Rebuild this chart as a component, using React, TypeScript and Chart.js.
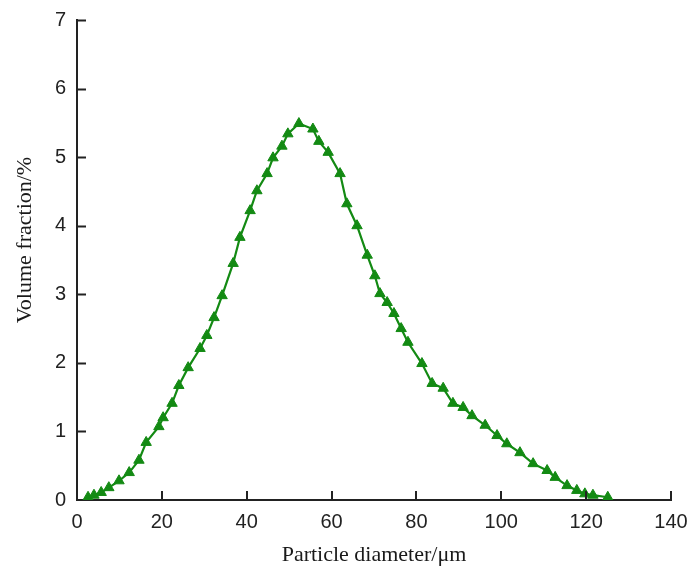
import React, { useEffect, useRef } from "react";
import { Chart, registerables } from "chart.js";

Chart.register(...registerables);

const diameters = [
  2.6, 4.0, 5.7, 7.5, 9.9, 12.3, 14.6, 16.3, 19.3, 20.3, 22.4, 24.0, 26.2, 29.0,
  30.6, 32.3, 34.2, 36.8, 38.4, 40.8, 42.4, 44.8, 46.2, 48.3, 49.7, 52.3, 55.6,
  57.0, 59.2, 62.0, 63.6, 66.0, 68.4, 70.2, 71.4, 73.1, 74.7, 76.4, 78.0, 81.3,
  83.7, 86.3, 88.6, 91.0, 93.1, 96.2, 99.0, 101.3, 104.4, 107.5, 110.8, 112.7,
  115.5, 117.8, 119.7, 121.6, 125.1,
];
const volumeFractions = [
  0.04, 0.07, 0.11, 0.18, 0.28, 0.4, 0.58, 0.84, 1.07, 1.2, 1.41, 1.67, 1.93,
  2.21, 2.4, 2.66, 2.98, 3.45, 3.83, 4.22, 4.51, 4.76, 4.99, 5.16, 5.34, 5.49,
  5.41, 5.23, 5.07, 4.76, 4.32, 4.0, 3.57, 3.27, 3.01, 2.88, 2.72, 2.5, 2.3,
  1.99, 1.7, 1.63, 1.41, 1.35, 1.23, 1.09, 0.94, 0.82, 0.69, 0.53, 0.43, 0.33,
  0.21, 0.14, 0.09, 0.07, 0.04,
];
const xTicks = [0, 20, 40, 60, 80, 100, 120, 140];
const yTicks = [0, 1, 2, 3, 4, 5, 6, 7];
const xTitle = "Particle diameter/μm";
const yTitle = "Volume fraction/%";

const AXIS_COLOR = "#222";
const GREEN = "#138a13";
const SANS = "'Liberation Sans', Arial, sans-serif";
const SERIF = "'Liberation Serif', 'Times New Roman', serif";

const tickPlugin = {
  id: "inwardTicksAndTitles",
  afterDraw(chart: any) {
    const ctx = chart.ctx;
    const xs = chart.scales.x;
    const ys = chart.scales.y;
    const area = chart.chartArea;
    ctx.save();
    ctx.strokeStyle = AXIS_COLOR;
    ctx.lineWidth = 2;
    ctx.beginPath();
    yTicks.forEach((v) => {
      if (v === 0) return;
      const y = Math.round(ys.getPixelForValue(v)) + 0.5;
      ctx.moveTo(area.left, y);
      ctx.lineTo(area.left + 9, y);
    });
    xTicks.forEach((v) => {
      if (v === 0) return;
      const x = Math.round(xs.getPixelForValue(v));
      ctx.moveTo(x, area.bottom);
      ctx.lineTo(x, area.bottom - 9);
    });
    ctx.stroke();

    ctx.fillStyle = "#1a1a1a";
    ctx.font = `22px ${SERIF}`;
    ctx.textAlign = "center";
    ctx.textBaseline = "alphabetic";
    ctx.fillText(xTitle, (area.left + area.right) / 2, 561);

    ctx.translate(31, 240);
    ctx.rotate(-Math.PI / 2);
    ctx.fillText(yTitle, 0, 0);
    ctx.restore();
  },
};

export default function App() {
  const canvasRef = useRef<HTMLCanvasElement | null>(null);

  useEffect(() => {
    if (!canvasRef.current) return;
    const chart = new Chart(canvasRef.current, {
      type: "scatter",
      data: {
        datasets: [
          {
            data: diameters.map((d, i) => ({ x: d, y: volumeFractions[i] })),
            showLine: true,
            borderColor: GREEN,
            backgroundColor: GREEN,
            borderWidth: 2.2,
            pointStyle: "triangle",
            pointRadius: 6,
            pointBorderWidth: 1,
            pointBackgroundColor: GREEN,
            pointBorderColor: GREEN,
            tension: 0,
          },
        ],
      },
      options: {
        responsive: false,
        animation: false,
        layout: { padding: { top: 20, right: 20, left: 0, bottom: 0 } },
        plugins: {
          legend: { display: false },
          tooltip: { enabled: false },
        },
        scales: {
          x: {
            type: "linear",
            min: 0,
            max: 140,
            afterFit: (scale: any) => {
              scale.height = 68;
              scale.paddingLeft = 0;
              scale.paddingRight = 0;
            },
            afterBuildTicks: (scale: any) => {
              scale.ticks = xTicks.map((v) => ({ value: v }));
            },
            ticks: {
              padding: 10,
              color: "#222",
              font: { family: SANS, size: 20 },
              maxRotation: 0,
            },
            grid: { drawOnChartArea: false, drawTicks: false },
            border: { display: true, color: AXIS_COLOR, width: 2 },
          },
          y: {
            type: "linear",
            min: 0,
            max: 7,
            afterFit: (scale: any) => {
              scale.width = 77;
              scale.paddingTop = 0;
              scale.paddingBottom = 0;
            },
            afterBuildTicks: (scale: any) => {
              scale.ticks = yTicks.map((v) => ({ value: v }));
            },
            ticks: {
              padding: 11,
              color: "#222",
              font: { family: SANS, size: 20 },
            },
            grid: { drawOnChartArea: false, drawTicks: false },
            border: { display: true, color: AXIS_COLOR, width: 2 },
          },
        },
      },
      plugins: [tickPlugin],
    });
    return () => chart.destroy();
  }, []);

  return (
    <div
      style={{
        position: "fixed",
        left: 0,
        top: 0,
        width: 691,
        height: 568,
        background: "#fff",
      }}
    >
      <canvas ref={canvasRef} width={691} height={568} />
    </div>
  );
}
